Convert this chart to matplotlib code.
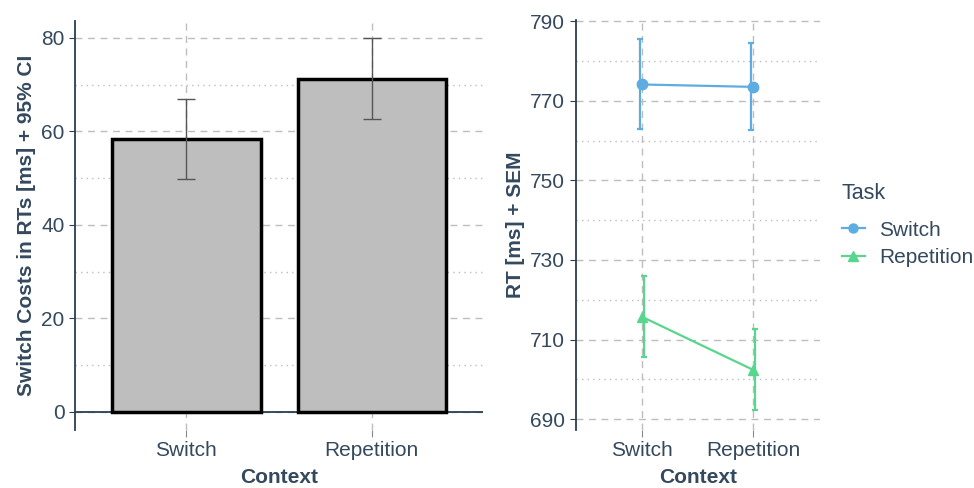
import matplotlib.pyplot as plt
from matplotlib.lines import Line2D

plt.rcParams['font.family'] = ['Liberation Sans', 'DejaVu Sans']

contexts = ['Switch', 'Repetition']

# left: switch costs with 95% CI
costs = [58.4, 71.2]
ci_low = [49.8, 62.7]
ci_high = [67.0, 79.9]

# right: RT by task and context, with SEM
tasks = ['Switch', 'Repetition']
rt_mean = {'Switch': [774.1, 773.5], 'Repetition': [715.7, 702.4]}
rt_low = {'Switch': [763.0, 762.6], 'Repetition': [705.6, 692.2]}
rt_high = {'Switch': [785.5, 784.5], 'Repetition': [726.0, 712.7]}
task_colors = {'Switch': '#5dade2', 'Repetition': '#58d68d'}
task_markers = {'Switch': 'o', 'Repetition': '^'}

txt = '#34495e'
spine = '#2c3e50'
grid = '#bdbdbd'
fs = 15

fig = plt.figure(figsize=(9.74, 4.88), dpi=100)
ax1 = fig.add_axes([0.077, 0.119, 0.419, 0.838])
ax2 = fig.add_axes([0.591, 0.119, 0.2505, 0.840])

x = [1, 2]


def style(ax):
    for s in ['top', 'right', 'bottom']:
        ax.spines[s].set_visible(False)
    ax.spines['left'].set_color(spine)
    ax.spines['left'].set_linewidth(1.3)
    ax.set_xticks(x)
    ax.set_xticklabels(contexts)
    ax.tick_params(axis='y', colors=spine, labelcolor=txt, labelsize=fs, length=4)
    ax.tick_params(axis='x', colors='#888888', labelcolor=txt, labelsize=fs, length=5, pad=3)
    ax.grid(True, which='major', color=grid, linestyle=(0, (5, 4)), linewidth=1.0)
    ax.grid(True, which='minor', axis='y', color=grid, linestyle=(0, (1, 3)), linewidth=1.0)
    ax.tick_params(axis='y', which='minor', length=0)
    ax.set_axisbelow(True)
    ax.set_xlim(0.4, 2.6)
    ax.set_xlabel('Context', fontsize=fs, fontweight='bold', color=txt, labelpad=6)


# left panel
style(ax1)
ax1.set_ylim(-3.85, 83.6)
ax1.set_yticks([0, 20, 40, 60, 80])
ax1.set_yticks([10, 30, 50, 70], minor=True)
ax1.axhline(0, color=spine, linewidth=1.3, zorder=1)
ax1.bar(x, costs, width=0.8, color='#bebebe', edgecolor='black', linewidth=2.5, zorder=2)
err = [[c - l for c, l in zip(costs, ci_low)], [h - c for c, h in zip(costs, ci_high)]]
ax1.errorbar(x, costs, yerr=err, fmt='none', ecolor='#555555', elinewidth=1.0,
             capsize=6.5, capthick=1.0, zorder=3)
ax1.set_ylabel('Switch Costs in RTs [ms] + 95% CI', fontsize=fs, fontweight='bold',
               color=txt, labelpad=4)

# right panel
style(ax2)
ax2.set_ylim(687.3, 790.3)
ax2.set_yticks([690, 710, 730, 750, 770, 790])
ax2.set_yticks([700, 720, 740, 760, 780], minor=True)
dodge = {'Switch': -0.02, 'Repetition': 0.02}
handles = []
for t in tasks:
    c = task_colors[t]
    m = rt_mean[t]
    xe = [xi + dodge[t] for xi in x]
    e = [[mi - lo for mi, lo in zip(m, rt_low[t])], [hi - mi for mi, hi in zip(m, rt_high[t])]]
    ax2.errorbar(xe, m, yerr=e, fmt='none', ecolor=c, elinewidth=1.6, capsize=2.2,
                 capthick=1.6, zorder=3)
    ax2.plot(x, m, color=c, linewidth=1.6, marker=task_markers[t], markersize=7.5, zorder=4)
    handles.append(Line2D([], [], color=c, linewidth=1.6, marker=task_markers[t],
                          markersize=6.5, label=t))
ax2.set_ylabel('RT [ms] + SEM', fontsize=fs, fontweight='bold', color=txt, labelpad=4)

leg = fig.legend(handles=handles, title='Task', loc='upper left',
                 bbox_to_anchor=(842 / 974, 1 - 183 / 488), frameon=False, fontsize=fs,
                 title_fontsize=15.5, handlelength=1.1, labelspacing=0.4,
                 handletextpad=0.67, borderpad=0, borderaxespad=0)
leg._legend_box.align = 'left'
leg._legend_box.sep = 12
for tx in leg.get_texts():
    tx.set_color(txt)
leg.get_title().set_color(txt)

fig.savefig('out.png', dpi=100)
